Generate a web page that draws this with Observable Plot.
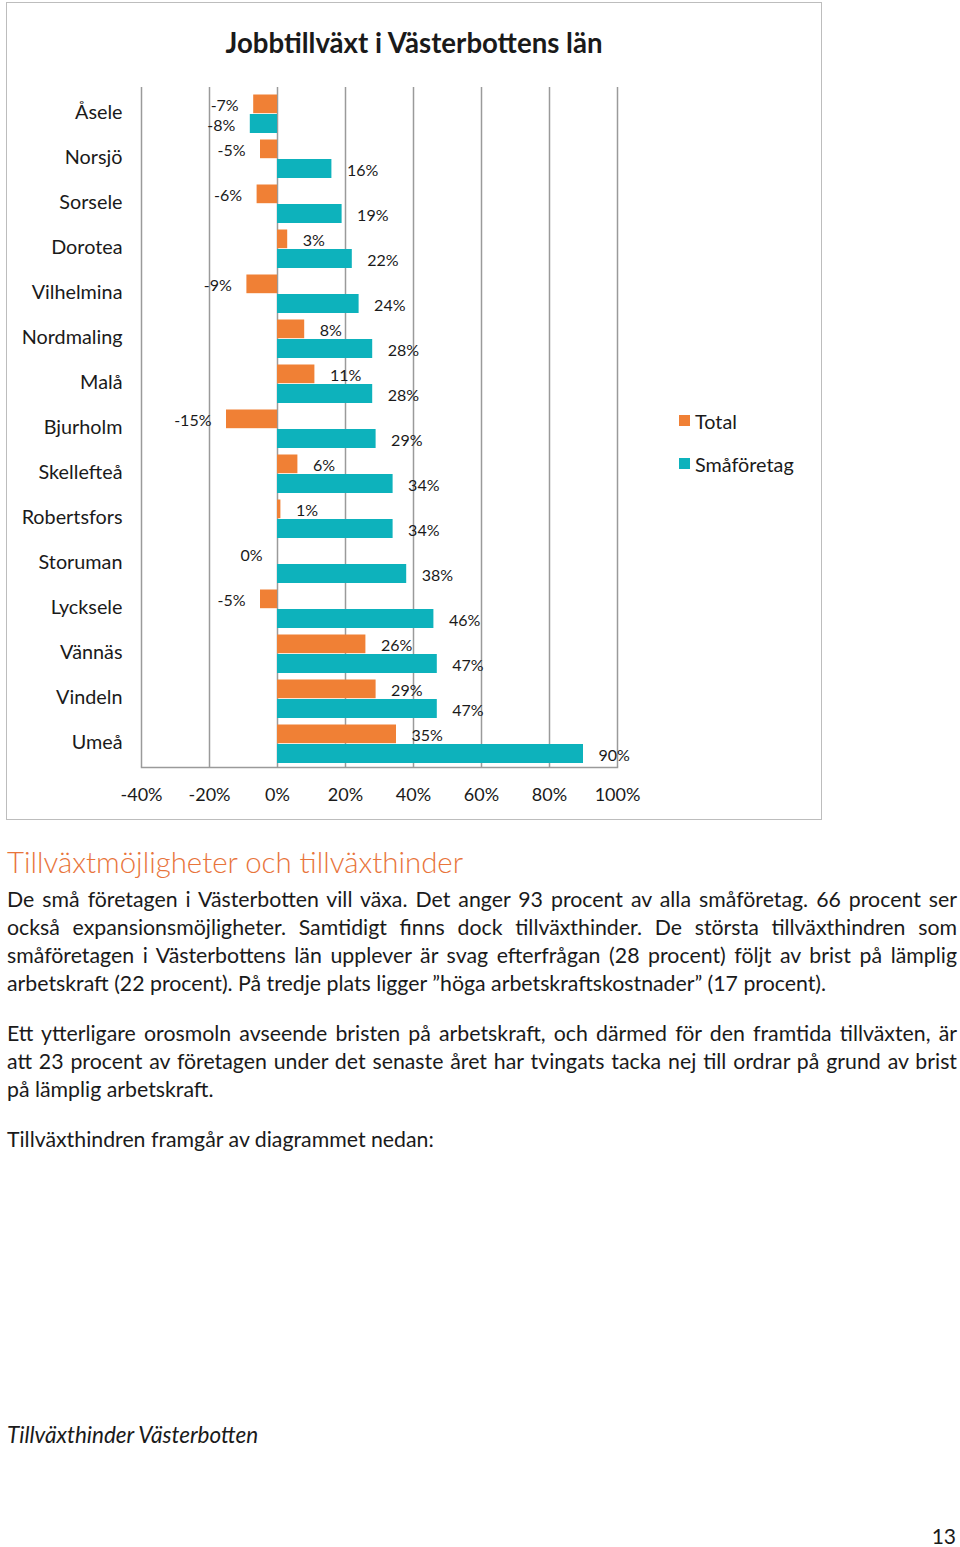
<!DOCTYPE html>
<html><head><meta charset="utf-8">
<script src="https://cdn.jsdelivr.net/npm/d3@7"></script>
<script src="https://cdn.jsdelivr.net/npm/@observablehq/plot@0.6"></script>
<style>
body{margin:0;background:#fff;font-family:Lato,"Open Sans",sans-serif;color:#1a1a1a;}
#page{position:relative;width:960px;height:1547px;overflow:hidden;}
.abs{position:absolute;}
.line{position:absolute;left:7px;width:950px;height:28px;line-height:28px;font-size:21.3px;text-align:justify;text-align-last:justify;}
.last{text-align-last:left;}
.lg{position:absolute;font-size:19.8px;line-height:22px;}
.sw{position:absolute;width:11px;height:11px;}
</style></head>
<body><div id="page">
<div class="abs" style="left:6px;top:2px;width:814px;height:816px;border:1.5px solid #bdbdbd;"></div>
<div class="abs" style="left:6px;top:25px;width:816px;text-align:center;font-weight:700;font-size:27.6px;line-height:36px;">Jobbtillväxt i Västerbottens län</div>
<div id="chart" class="abs" style="left:0;top:80px;"></div>
<div id="legend"></div>
<div class="abs" style="left:7px;top:844px;font-size:29.4px;line-height:36px;font-weight:300;color:#e8743b;">Tillväxtmöjligheter och tillväxthinder</div>
<div class="line" style="top:885px">De små företagen i Västerbotten vill växa. Det anger 93 procent av alla småföretag. 66 procent ser</div>
<div class="line" style="top:913px">också expansionsmöjligheter. Samtidigt finns dock tillväxthinder. De största tillväxthindren som</div>
<div class="line" style="top:941px">småföretagen i Västerbottens län upplever är svag efterfrågan (28 procent) följt av brist på lämplig</div>
<div class="line last" style="top:969px">arbetskraft (22 procent). På tredje plats ligger ”höga arbetskraftskostnader” (17 procent).</div>
<div class="line" style="top:1019px">Ett ytterligare orosmoln avseende bristen på arbetskraft, och därmed för den framtida tillväxten, är</div>
<div class="line" style="top:1047px">att 23 procent av företagen under det senaste året har tvingats tacka nej till ordrar på grund av brist</div>
<div class="line last" style="top:1075px">på lämplig arbetskraft.</div>
<div class="line last" style="top:1125px">Tillväxthindren framgår av diagrammet nedan:</div>
<div class="line last" style="top:1421px;font-style:italic;font-size:22.5px;">Tillväxthinder Västerbotten</div>
<div class="abs" style="left:920px;top:1525px;width:36px;text-align:right;font-size:21px;line-height:22px;">13</div>
</div>
<script>
const kommuner = ["Åsele","Norsjö","Sorsele","Dorotea","Vilhelmina","Nordmaling","Malå","Bjurholm","Skellefteå","Robertsfors","Storuman","Lycksele","Vännäs","Vindeln","Umeå"];
const total = [-7,-5,-6,3,-9,8,11,-15,6,1,0,-5,26,29,35];
const smaforetag = [-8,16,19,22,24,28,28,29,34,34,38,46,47,47,90];
const series = ["Total","Småföretag"];
const colors = ["#f08035","#0db2bc"];
const xTicks = [-40,-20,0,20,40,60,80,100];

const rows = kommuner.flatMap((k,i)=>[
  {kommun:k, serie:series[0], value:total[i]},
  {kommun:k, serie:series[1], value:smaforetag[i]}
]);
const fmt = d => d + "%";
const isT = d => d.serie === series[0];
const isS = d => d.serie === series[1];

const chart = Plot.plot({
  width: 700, height: 735,
  marginLeft: 141, marginRight: 83, marginTop: 7, marginBottom: 48,
  style: {background:"transparent", fontFamily:"Lato, sans-serif", color:"#1a1a1a"},
  x: {domain:[-40,100]},
  y: {domain:kommuner, padding:0},
  marks: [
    Plot.ruleX(xTicks, {stroke:"#9a9a9a", strokeWidth:1.5}),
    Plot.frame({anchor:"bottom", stroke:"#9a9a9a", strokeWidth:1.5}),
    Plot.barX(rows, {filter:isT, y:"kommun", x1:0, x2:"value", fill:colors[0], insetTop:4.5, insetBottom:21.8}),
    Plot.barX(rows, {filter:isS, y:"kommun", x1:0, x2:"value", fill:colors[1], insetTop:24, insetBottom:2}),
    Plot.text(rows, {filter:d=>isT(d)&&d.value>0, y:"kommun", x:"value", text:d=>fmt(d.value), textAnchor:"start", dx:15, dy:-7, fontSize:16, fill:"#1a1a1a"}),
    Plot.text(rows, {filter:d=>isT(d)&&d.value<=0, y:"kommun", x:"value", text:d=>fmt(d.value), textAnchor:"end", dx:-15, dy:-7, fontSize:16, fill:"#1a1a1a"}),
    Plot.text(rows, {filter:d=>isS(d)&&d.value>0, y:"kommun", x:"value", text:d=>fmt(d.value), textAnchor:"start", dx:15, dy:12.5, fontSize:16, fill:"#1a1a1a"}),
    Plot.text(rows, {filter:d=>isS(d)&&d.value<=0, y:"kommun", x:"value", text:d=>fmt(d.value), textAnchor:"end", dx:-15, dy:12.5, fontSize:16, fill:"#1a1a1a"}),
    Plot.axisY({tickSize:0, tickPadding:19, fontSize:19.8, label:null}),
    Plot.axisX({ticks:xTicks, tickFormat:fmt, tickSize:0, tickPadding:21, fontSize:18, label:null})
  ]
});
document.getElementById("chart").appendChild(chart);

const legend = document.getElementById("legend");
series.forEach((s,i)=>{
  const top = 415 + i*43;
  const sw = document.createElement("div");
  sw.className = "sw"; sw.style.left = "679px"; sw.style.top = top + "px"; sw.style.background = colors[i];
  const lb = document.createElement("div");
  lb.className = "lg"; lb.style.left = "695px"; lb.style.top = (top - 5) + "px"; lb.textContent = s;
  legend.appendChild(sw); legend.appendChild(lb);
});
</script>
</body></html>
